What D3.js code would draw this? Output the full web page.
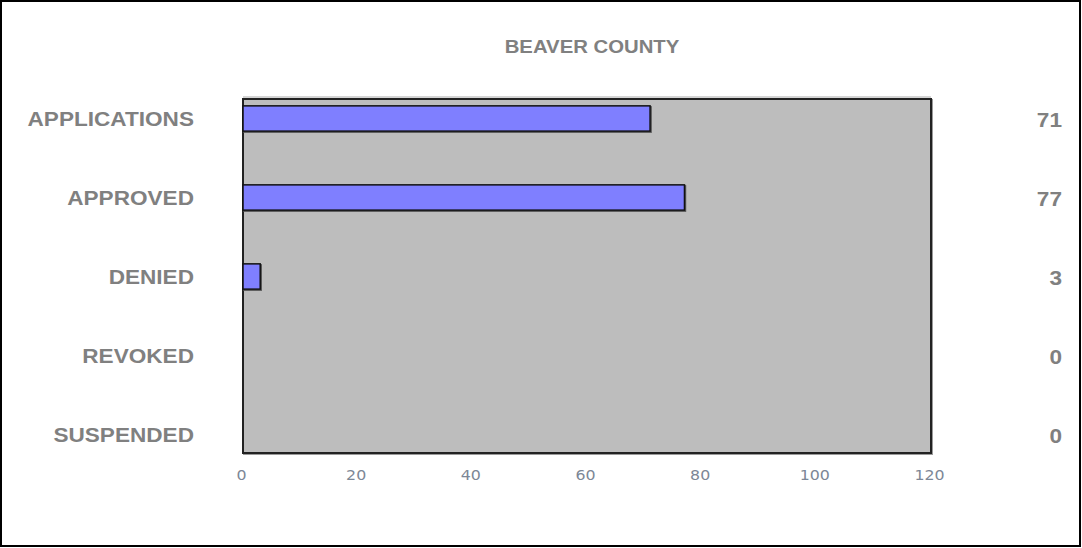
<!DOCTYPE html>
<html><head><meta charset="utf-8">
<script src="https://cdn.jsdelivr.net/npm/d3@7"></script>
<style>html,body{margin:0;padding:0;background:#fff;}svg{display:block;}</style>
</head><body>
<script>
const title = "BEAVER COUNTY";
const categories = ["APPLICATIONS", "APPROVED", "DENIED", "REVOKED", "SUSPENDED"];
const values = [71, 77, 3, 0, 0];
const xTicks = [0, 20, 40, 60, 80, 100, 120];

const W = 1082, H = 548;
const svg = d3.select("body").append("svg").attr("width", W).attr("height", H);
const font = "'Liberation Sans', Arial, sans-serif";
const gray = "#808080";
const SX = 1.13; // horizontal stretch of text as in reference

// outer frame
svg.append("rect").attr("x", 1).attr("y", 1).attr("width", W - 3).attr("height", H - 3)
  .attr("fill", "#fff").attr("stroke", "#000").attr("stroke-width", 2);

const plot = {x0: 243, x1: 931, y0: 99, y1: 453};
const x = d3.scaleLinear().domain([0, 120]).range([plot.x0, plot.x1]);
const y = d3.scaleBand().domain(categories).range([79, 474]).paddingInner(0.68).paddingOuter(0.34);

// plot area shadow + fill
svg.append("rect").attr("x", plot.x0 + 1).attr("y", plot.y0 + 1)
  .attr("width", plot.x1 - plot.x0).attr("height", plot.y1 - plot.y0)
  .attr("fill", "none").attr("stroke", "#9a9a9a").attr("stroke-width", 2);
svg.append("rect").attr("x", plot.x0).attr("y", plot.y0)
  .attr("width", plot.x1 - plot.x0).attr("height", plot.y1 - plot.y0)
  .attr("fill", "#bdbdbd").attr("stroke", "#222").attr("stroke-width", 2);
svg.append("line").attr("x1", plot.x0).attr("x2", plot.x1).attr("y1", plot.y0 - 2).attr("y2", plot.y0 - 2)
  .attr("stroke", "#aaa").attr("stroke-width", 1);

// bars
const barData = values.map((v, i) => ({v, c: categories[i]})).filter(d => d.v > 0);
const bars = svg.append("g");
bars.selectAll("rect.shadow").data(barData).enter().append("rect").attr("class", "shadow")
  .attr("x", x(0) + 1).attr("y", d => y(d.c) + 1)
  .attr("width", d => x(d.v) - x(0)).attr("height", y.bandwidth())
  .attr("fill", "none").attr("stroke", "#555").attr("stroke-width", 1.5);
bars.selectAll("rect.bar").data(barData).enter().append("rect").attr("class", "bar")
  .attr("x", x(0)).attr("y", d => y(d.c))
  .attr("width", d => x(d.v) - x(0)).attr("height", y.bandwidth())
  .attr("fill", "#7f7fff").attr("stroke", "#111").attr("stroke-width", 1.5);

function stretchedText(g, tx, ty, txt, opts) {
  const gg = g.append("g").attr("transform", `translate(${tx},${ty}) scale(${SX},1)`);
  return gg.append("text").attr("x", 0).attr("y", 0).attr("dy", "0.35em")
    .attr("text-anchor", opts.anchor || "middle")
    .attr("font-family", opts.family || font).attr("font-weight", opts.weight || "bold")
    .attr("font-size", opts.size).attr("fill", opts.fill || gray).text(txt);
}

// category labels
const catG = svg.append("g");
categories.forEach(c => stretchedText(catG, 194, y(c) + y.bandwidth() / 2, c, {anchor: "end", size: 20}));

// value labels
const valG = svg.append("g");
values.forEach((v, i) => stretchedText(valG, 1062, y(categories[i]) + y.bandwidth() / 2 + 1, v, {anchor: "end", size: 20}));

// x axis
const xAxis = d3.axisBottom(x).tickValues(xTicks).tickSize(0).tickPadding(0);
const ax = svg.append("g").attr("transform", `translate(-2,${plot.y1 + 14})`).call(xAxis);
ax.select(".domain").remove();
ax.selectAll(".tick text").attr("font-family", "'DejaVu Sans', Verdana, sans-serif").attr("font-size", 14)
  .attr("fill", "#7d8796").attr("transform", `scale(${SX},1)`)
  .attr("x", 0).attr("dy", "0.9em");

// title
stretchedText(svg, 592, 47, title, {size: 18});
</script>
</body></html>
